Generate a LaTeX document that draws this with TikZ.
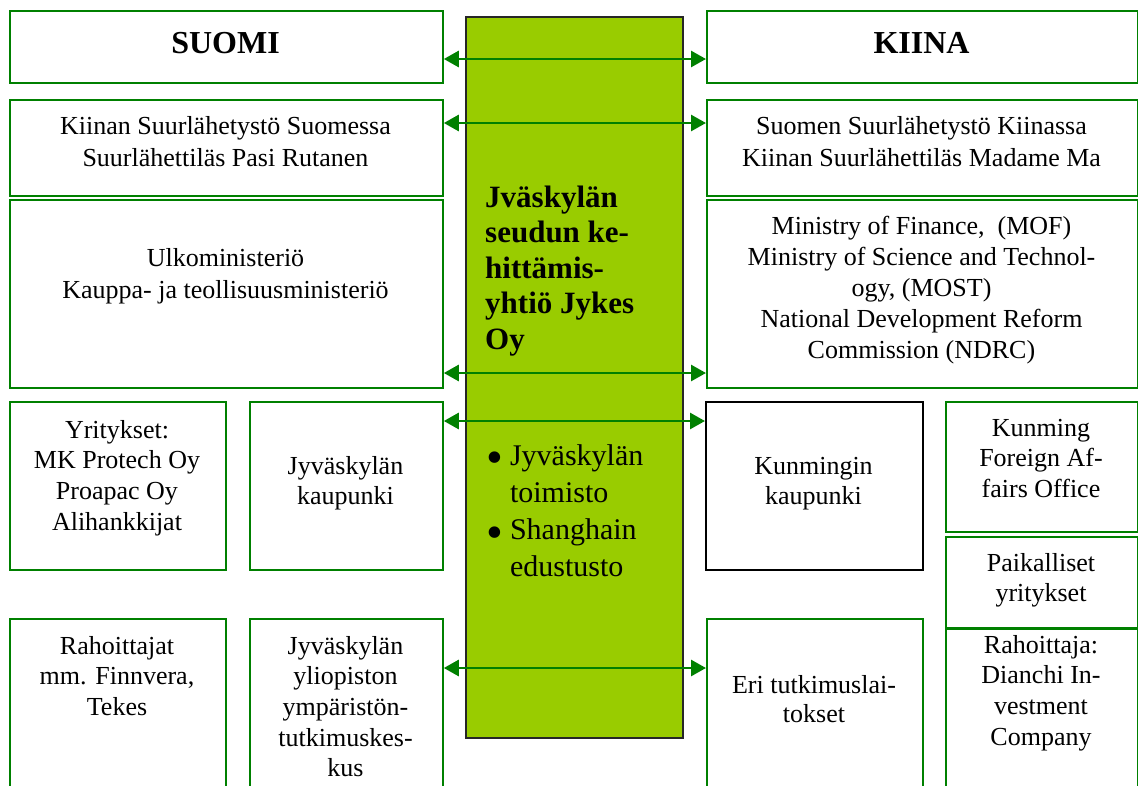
\documentclass[tikz,border=0pt]{standalone}
\usepackage{fontspec}
\usepackage{graphicx}
\setmainfont{Liberation Serif}
\usetikzlibrary{arrows.meta}
\definecolor{bgreen}{HTML}{008000}
\definecolor{lgreen}{HTML}{99CC00}
\newcommand\fN{\fontsize{26}{32}\selectfont}
\newcommand\fM{\fontsize{26}{30.7}\selectfont}
\newcommand\tl[1]{\begin{tabular}[t]{@{}c@{}}#1\end{tabular}}
\newcommand\bx[6][box]{\node[#1, anchor=north west, minimum width=#5pt, minimum height=#6pt] (#2) at (#3,#4) {};}
\newcommand\bigbul{\raisebox{-0.28em}{\scalebox{1.6}{\textbullet}}}
\begin{document}
\begin{tikzpicture}[x=1pt,y=-1pt,
  box/.style={draw=bgreen, line width=1.8pt, fill=white, inner sep=0pt},
  blackbox/.style={draw=black, line width=1.8pt, fill=white, inner sep=0pt},
  txt/.style={anchor=base, inner sep=0pt, font=\fN},
  conn/.style={draw=bgreen, line width=2.8pt, {Triangle[length=15pt,width=16pt]}-{Triangle[length=15pt,width=16pt]}}]
\useasboundingbox (0,0) rectangle (1138,785);
% left column
\bx{sA}{9}{10}{433}{72}
\bx{sB}{9}{99}{433}{96}
\bx{sC}{9}{199}{433}{188}
\bx{yr}{9}{401}{216}{168}
\bx{jk}{249}{401}{193}{168}
\bx{rt}{9}{618}{216}{168}
\bx{jy}{249}{618}{193}{168}
% right column
\bx{kA}{706}{10}{431}{72}
\bx{kB}{706}{99}{431}{96}
\bx{kC}{706}{199}{431}{188}
\bx[blackbox]{km}{705}{401}{217}{168}
\bx{fao}{945}{401}{192}{130}
\bx{pk}{945}{536}{192}{91}
\bx{ra}{945}{628}{192}{158}
\bx{et}{706}{618}{216}{168}
% central box
\node[draw=black!85, line width=2pt, fill=lgreen, anchor=north west, minimum width=217pt, minimum height=721pt, inner sep=0pt] (jykes) at (465,16) {};
% texts
\node[txt, font=\bfseries\fontsize{32}{38}\selectfont] (tA) at (225.5,53) {SUOMI};
\node[txt, font=\bfseries\fontsize{32}{38}\selectfont] (tK) at (921.5,53) {KIINA};
\node[txt] (tsB) at (225.5,134) {\tl{Kiinan Suurlähetystö Suomessa\\Suurlähettiläs Pasi Rutanen}};
\node[txt] (tkB) at (921.5,134) {\tl{Suomen Suurlähetystö Kiinassa\\Kiinan Suurlähettiläs Madame Ma}};
\node[txt] (tsC) at (225.5,266) {\tl{Ulkoministeriö\\Kauppa- ja teollisuusministeriö}};
\node[txt, font=\fontsize{26}{31}\selectfont] (tkC) at (921.5,234) {\tl{Ministry of Finance,\ \ (MOF)\\Ministry of Science and Technol-\\ogy, (MOST)\\National Development Reform\\Commission (NDRC)}};
\node[txt, font=\fM] (tyr) at (117,438) {\tl{Yritykset:\\MK Protech Oy\\Proapac Oy\\Alihankkijat}};
\node[txt, font=\fM] (tjk) at (345.5,474) {\tl{Jyväskylän\\kaupunki}};
\node[txt, font=\fM] (tkm) at (813.5,474) {\tl{Kunmingin\\kaupunki}};
\node[txt, font=\fM] (tfao) at (1041,436) {\tl{Kunming\\Foreign Af-\\fairs Office}};
\node[txt, font=\fM] (tpk) at (1041,571) {\tl{Paikalliset\\yritykset}};
\node[txt, font=\fM] (tra) at (1041,653) {\tl{Rahoittaja:\\Dianchi In-\\vestment\\Company}};
\node[txt, font=\fM] (trt) at (117,654) {\tl{Rahoittajat\\mm. Finnvera,\\Tekes}};
\node[txt, font=\fM] (tjy) at (345.5,654) {\tl{Jyväskylän\\yliopiston\\ympäristön-\\tutkimuskes-\\kus}};
\node[txt, font=\fontsize{26}{29}\selectfont] (tet) at (814,693) {\tl{Eri tutkimuslai-\\tokset}};
\node[anchor=base west, inner sep=0pt, font=\bfseries\fontsize{31}{35.5}\selectfont] (tj) at (485,207)
  {\begin{tabular}[t]{@{}l@{}}Jväskylän\\seudun ke-\\hittämis-\\yhtiö Jykes\\Oy\end{tabular}};
\node[anchor=base west, inner sep=0pt, font=\fontsize{30}{37.3}\selectfont] (tb) at (486,465)
  {\begin{tabular}[t]{@{}l@{\hspace{7pt}}l@{}}\bigbul & Jyväskylän\\ & toimisto\\ \bigbul & Shanghain\\ & edustusto\end{tabular}};
% connectors
\draw[conn] (sA.east |- 0,59) -- (kA.west |- 0,59);
\draw[conn] (sB.east |- 0,123) -- (kB.west |- 0,123);
\draw[conn] (sC.east |- 0,373) -- (kC.west |- 0,373);
\draw[conn] (jk.east |- 0,421) -- (km.west |- 0,421);
\draw[conn] (jy.east |- 0,668) -- (et.west |- 0,668);
\end{tikzpicture}
\end{document}
